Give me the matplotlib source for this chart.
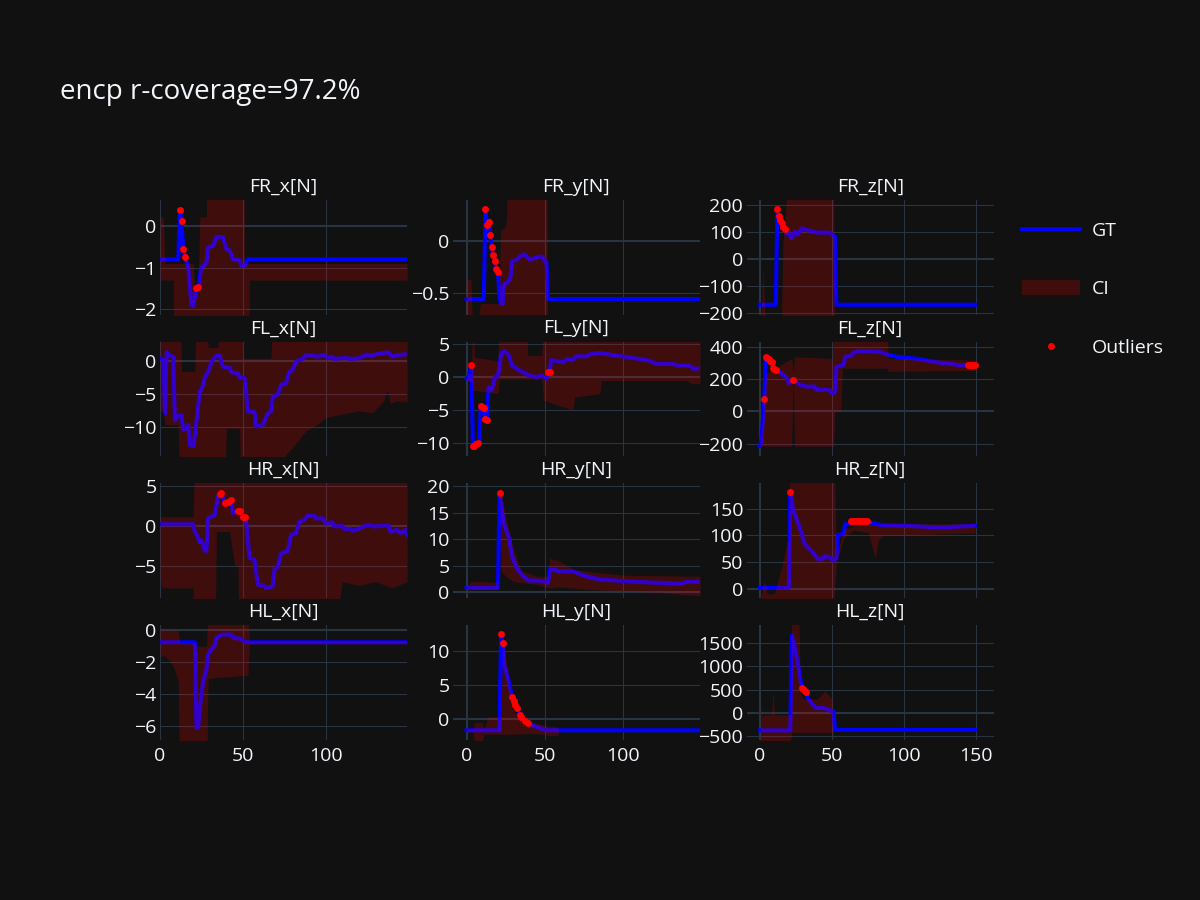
import matplotlib
matplotlib.use("Agg")
import matplotlib.pyplot as plt
from matplotlib.lines import Line2D
from matplotlib.patches import Patch

BG = "#111111"
GRID = "#283442"
TXT = "#f2f5fa"
plt.rcParams['font.family'] = ['Open Sans', 'DejaVu Sans']

chart_title = "encp r-coverage=97.2%"
panel_names = ["FR_x[N]", "FR_y[N]", "FR_z[N]",
               "FL_x[N]", "FL_y[N]", "FL_z[N]",
               "HR_x[N]", "HR_y[N]", "HR_z[N]",
               "HL_x[N]", "HL_y[N]", "HL_z[N]"]
legend_labels = ["GT", "CI", "Outliers"]

# ---------------- FR_x ----------------
FRx_t = [0, 11, 12, 13, 14, 15, 17, 19, 20, 22, 23, 25, 28, 29, 32, 34, 38, 40, 42, 44, 48, 49, 51, 53, 149]
FRx_gt = [-0.80, -0.80, 0.40, 0.13, -0.55, -0.74, -0.98, -1.90, -1.93, -1.50, -1.46, -0.98, -0.90, -0.51,
          -0.48, -0.26, -0.26, -0.55, -0.58, -0.80, -0.82, -0.96, -0.96, -0.80, -0.80]
FRx_ci_t = [0, 2, 3, 8, 9, 20, 21, 23, 24, 28, 29, 50, 51, 53, 54, 149]
FRx_lo = [-1.3, -1.3, -1.3, -1.3, -5, -5, -5, -5, -5, -5, -5, -5, -5, -5, -1.3, -1.3]
FRx_hi = [0.22, 0.22, -0.9, -0.9, -0.9, -0.9, -1.6, -1.6, 0.22, 0.22, 5, 5, -0.9, -0.9, -0.9, -0.9]
FRx_out_t = [12, 13, 14, 15, 22, 23]
FRx_out = [0.40, 0.13, -0.55, -0.74, -1.50, -1.46]

# ---------------- FR_y ----------------
FRy_t = [0, 11, 12, 13, 14, 15, 16, 17, 18, 19, 20, 21, 22, 23, 24, 26, 28, 29, 32, 34, 37, 40, 45, 48, 51, 52, 149]
FRy_gt = [-0.553, -0.553, 0.297, 0.15, 0.175, 0.05, -0.063, -0.14, -0.19, -0.27, -0.30, -0.55, -0.60, -0.60,
          -0.41, -0.40, -0.35, -0.20, -0.18, -0.15, -0.13, -0.18, -0.16, -0.15, -0.21, -0.553, -0.553]
FRy_ci_t = [0, 3, 4, 8, 9, 21, 22, 25, 26, 28, 51, 52, 149]
FRy_lo = [-5, -5, -0.75, -0.75, -5, -5, -5, -5, -5, -5, -5, -0.75, -0.75]
FRy_hi = [-0.37, -0.37, -0.75, -0.75, -0.6, -0.6, 0.09, 0.12, 0.23, 5, 5, -0.75, -0.75]
FRy_out_t = [12, 13, 14, 15, 16, 17, 18, 19, 20]
FRy_out = [0.297, 0.15, 0.175, 0.05, -0.063, -0.14, -0.19, -0.27, -0.30]

# ---------------- FR_z ----------------
FRz_t = [0, 11, 12, 13, 14, 15, 16, 17, 18, 20, 22, 24, 26, 29, 32, 37, 39, 48, 50, 52, 53, 149]
FRz_gt = [-168, -168, 184, 160, 146, 135, 120, 110, 96, 93, 77, 102, 90, 114, 108, 102, 98, 98, 90, 83, -168, -168]
FRz_ci_t = [0, 1, 2, 3, 4, 11, 12, 15, 16, 17, 19, 20, 51, 52, 149]
FRz_lo = [-300, -300, -300, -300, -300, -300, -175, -175, -300, -300, -300, -300, -300, -300, -300]
FRz_hi = [-300, -200, -30, -150, -300, -300, -175, -175, 60, 100, 300, 300, 300, -300, -300]
FRz_out_t = [12, 13, 14, 15, 16, 17]
FRz_out = [184, 160, 146, 135, 120, 110]

# ---------------- FL_x ----------------
FLx_t = [0, 2, 3, 4, 5, 8, 9, 11, 13, 14, 16, 17, 18, 20, 21, 24, 25, 27, 28, 30, 31, 34, 36, 38, 42, 43, 47,
         48, 51, 52, 53, 57, 58, 62, 65, 67, 68, 71, 73, 76, 78, 80, 82, 84, 86, 88, 92, 95, 99, 101, 104, 105,
         109, 113, 114, 120, 122, 125, 126, 129, 133, 138, 140, 144, 149]
FLx_gt = [0.35, 0.1, -7.9, 1.3, 0.85, 0.6, -8.9, -8.2, -8.2, -10.3, -10.1, -9.6, -12.6, -12.8, -11.3, -4.6,
          -4.4, -2.6, -2.1, -1.1, -0.15, 0.75, 0.75, -0.9, -1.05, -1.75, -1.9, -2.5, -2.6, -4.9, -7.6, -7.6,
          -9.85, -9.6, -7.9, -7.6, -5.4, -5.1, -3.6, -3.4, -1.6, -1.4, -0.15, 0.1, 0.25, 0.85, 0.75, 0.6, 0.85,
          0.45, 0.6, 0.25, 0.35, 0.45, 0.25, 0.35, 0.6, 0.95, 0.75, 0.85, 1.1, 1.25, 0.6, 0.85, 0.95]
FLx_ci_t = [0, 2, 3, 11, 12, 13, 21, 22, 28, 29, 35, 36, 39, 40, 48, 49, 50, 67, 68, 76, 80, 88, 95, 100, 110,
            120, 128, 135, 137, 139, 143, 149]
FLx_lo = [-7.6, -7.6, -9.6, -9.6, -20, -20, -20, -20, -20, -20, -20, -20, -20, -10.1, -10.1, -20, -20, -20,
          -20, -14, -13, -10.5, -9.5, -8.5, -8, -7.5, -7.8, -6, -4.4, -6.4, -6, -6.2]
FLx_hi = [10, 10, 10, 10, 10, -1.6, -1.6, 10, 10, 2.0, 2.0, 10, 10, 10, 10, 10, 0.35, 0.35, 10, 10, 10, 10,
          10, 10, 10, 10, 10, 10, 10, 10, 10, 10]
FLx_out_t = []
FLx_out = []

# ---------------- FL_y ----------------
FLy_t = [0, 1, 3, 4, 5, 6, 7, 8, 9, 10, 11, 12, 13, 14, 16, 18, 20, 22, 24, 27, 29, 34, 40, 45, 48, 51, 52, 53,
         54, 56, 62, 64, 68, 70, 77, 79, 85, 96, 108, 117, 121, 132, 135, 142, 145, 149]
FLy_gt = [-0.2, -0.25, 1.8, -10.45, -10.4, -10.2, -10.05, -10.0, -4.4, -4.5, -4.7, -6.4, -6.5, -1.5, -2.0, 0.0,
          0.1, 3.5, 4.0, 3.3, 1.76, 1.0, 0.25, 0.0, 0.25, -0.25, 0.75, 0.85, 2.6, 2.5, 2.26, 2.76, 2.66, 3.17,
          3.17, 3.5, 3.67, 3.27, 2.86, 2.5, 2.0, 2.0, 1.76, 1.76, 1.26, 1.36]
FLy_ci_t = [0, 3, 4, 5, 20, 21, 38, 39, 48, 49, 68, 69, 85, 86, 140, 144, 149]
FLy_lo = [-0.5, -0.5, -2.0, -2.0, -2.5, -0.3, -0.3, -0.3, -0.3, -3.5, -5.0, -3.0, -2.5, -0.5, -0.5, -1.0, -1.0]
FLy_hi = [0.3, 0.3, 10, 3.0, 2.5, 10, 10, 3.3, 3.3, 10, 10, 10, 10, 10, 10, 10, 10]
FLy_out_t = [3, 4, 5, 6, 7, 9, 10, 11, 12, 13, 52, 53]
FLy_out = [1.8, -10.45, -10.4, -10.2, -10.05, -4.4, -4.5, -4.7, -6.4, -6.5, 0.75, 0.85]

# ---------------- FL_z ----------------
FLz_t = [0, 1, 3, 4, 5, 6, 7, 8, 9, 10, 11, 13, 16, 18, 20, 22, 23, 28, 32, 38, 39, 48, 50, 52, 53, 58, 59,
         63, 65, 69, 83, 88, 95, 102, 111, 120, 129, 138, 144, 146, 149]
FLz_gt = [-216, -180, 78, 340, 334, 324, 313, 305, 272, 262, 258, 250, 227, 216, 175, 190, 196, 165, 155, 155,
          134, 134, 113, 120, 278, 289, 340, 346, 367, 375, 371, 355, 340, 334, 326, 309, 299, 289, 289, 289, 287]
FLz_ci_t = [0, 1, 4, 5, 22, 23, 24, 50, 51, 52, 56, 57, 88, 89, 149]
FLz_lo = [-216, -216, -216, -216, -216, 240, -216, -216, -216, 0, 0, 270, 270, 250, 255]
FLz_hi = [-150, -150, 230, 240, 330, 240, 340, 330, 500, 500, 500, 500, 500, 330, 320]
FLz_out_t = [3, 4, 5, 6, 7, 8, 9, 10, 11, 23, 144, 145, 146, 147, 148, 149]
FLz_out = [78, 340, 334, 324, 313, 305, 272, 262, 258, 196, 289, 289, 289, 288, 288, 287]

# ---------------- HR_x ----------------
HRx_t = [0, 20, 21, 22, 24, 25, 27, 28, 29, 31, 33, 35, 36, 37, 39, 41, 43, 44, 47, 48, 49, 50, 51, 52, 54, 57,
         59, 62, 64, 68, 69, 71, 73, 77, 79, 82, 84, 87, 89, 93, 94, 98, 100, 104, 105, 110, 111, 115, 116, 120,
         124, 127, 129, 138, 139, 143, 145, 148, 149]
HRx_gt = [0.17, 0.17, -0.75, -1.08, -2.07, -1.8, -3.15, -3.15, 0.91, 1.12, 1.33, 3.7, 3.9, 4.1, 2.86, 3.0, 3.15,
          1.54, 1.87, 1.87, 1.54, 1.1, 1.04, 0.5, -4.07, -4.27, -7.4, -7.47, -7.8, -7.6, -5.5, -5.2, -3.44,
          -3.24, -1.16, -0.95, 0.5, 0.7, 1.24, 1.24, 0.9, 0.9, 0.29, 0.41, -0.12, -0.04, -0.41, -0.41, -0.66,
          -0.41, 0.0, 0.08, -0.12, 0.0, -0.75, -0.54, -0.95, -0.54, -1.16]
HRx_ci_t = [0, 1, 20, 21, 33, 34, 42, 45, 47, 48, 100, 110, 120, 130, 140, 149]
HRx_lo = [-6.3, -7.8, -7.8, -20, -20, -0.75, -0.75, -5.0, -5.0, -20, -20, -7.0, -7.5, -7.0, -7.8, -7.0]
HRx_hi = [1.1, 1.1, 1.1, 10, 10, 10, 10, 10, 10, 10, 10, 10, 10, 10, 10, 10]
HRx_out_t = [36, 37, 39, 41, 43, 47, 48, 50, 51]
HRx_out = [3.9, 4.1, 2.86, 3.0, 3.15, 1.87, 1.87, 1.1, 1.04]

# ---------------- HR_y ----------------
HRy_t = [0, 20, 21, 22, 24, 27, 29, 32, 36, 40, 45, 49, 52, 53, 57, 58, 68, 74, 85, 96, 108, 125, 138, 140, 149]
HRy_gt = [0.8, 0.8, 18.6, 16.4, 12.7, 10.2, 6.75, 4.56, 3.0, 2.19, 2.19, 2.06, 1.75, 4.25, 4.25, 3.94, 3.94,
          3.19, 2.38, 2.19, 1.94, 1.75, 1.56, 1.94, 1.94]
HRy_ci_t = [0, 3, 10, 20, 21, 22, 25, 30, 35, 45, 52, 53, 58, 68, 80, 100, 120, 149]
HRy_lo = [0.5, 0.6, 0.5, 0.5, 18.0, 4.0, 3.0, 2.0, 1.8, 1.5, 0.8, 0.8, 1.0, 0.8, 0.5, 0.2, 0.0, -0.7]
HRy_hi = [1.2, 2.0, 2.0, 1.8, 19.5, 19.0, 14.0, 8.0, 4.0, 3.0, 3.0, 6.4, 6.0, 4.3, 3.8, 3.2, 3.1, 3.0]
HRy_out_t = [21]
HRy_out = [18.6]

# ---------------- HR_z ----------------
HRz_t = [0, 20, 21, 23, 28, 31, 36, 40, 43, 45, 48, 51, 53, 54, 58, 59, 63, 64, 74, 78, 85, 101, 125, 141, 149]
HRz_gt = [1.25, 1.25, 181, 148, 111, 84, 70, 56, 56, 61, 59, 52.5, 57.5, 101, 102.5, 121, 122, 127.5, 127.5,
          123, 119, 118, 115, 117, 118]
HRz_ci_t = [0, 1, 3, 5, 10, 15, 19, 20, 21, 50, 51, 53, 58, 65, 75, 80, 82, 85, 100, 149]
HRz_lo = [-30, -30, -30, -30, -30, -30, -30, -30, -30, -30, -30, 50, 95, 110, 105, 57, 90, 100, 100, 105]
HRz_hi = [-30, -10, 15, -10, -10, 40, 89, 89, 300, 300, 300, 60, 110, 118, 120, 120, 120, 122, 122, 122]
HRz_out_t = [21, 63, 64, 65, 66, 67, 68, 69, 70, 71, 72, 73, 74]
HRz_out = [181, 127, 127.5, 127.5, 127.5, 127.5, 127.5, 127.5, 127.5, 127.5, 127.5, 127, 127]

# ---------------- HL_x ----------------
HLx_t = [0, 21, 22, 23, 24, 26, 28, 29, 31, 33, 34, 37, 43, 44, 48, 51, 52, 149]
HLx_gt = [-0.75, -0.75, -6.1, -6.1, -4.85, -3.2, -2.46, -1.52, -1.2, -0.94, -0.48, -0.27, -0.27, -0.48, -0.52,
          -0.69, -0.75, -0.75]
HLx_ci_t = [0, 3, 8, 11, 12, 21, 22, 28, 29, 53, 54, 149]
HLx_lo = [-1.6, -1.6, -2.2, -3.2, -10, -10, -10, -10, -3.0, -2.8, -0.85, -0.85]
HLx_hi = [0.15, 0.0, 0.0, 0.0, -0.8, -0.8, -1.0, -1.0, 1.0, 1.0, -0.65, -0.65]
HLx_out_t = []
HLx_out = []

# ---------------- HL_y ----------------
HLy_t = [0, 21, 22, 23, 24, 27, 29, 30, 31, 32, 34, 35, 37, 39, 45, 51, 149]
HLy_gt = [-1.73, -1.73, 12.5, 11.2, 8.0, 5.5, 3.17, 2.57, 2.08, 1.58, 0.59, 0.2, -0.3, -0.64, -1.29, -1.73, -1.73]
HLy_ci_t = [0, 4, 5, 10, 11, 14, 22, 23, 25, 30, 40, 50, 52, 58, 59, 149]
HLy_lo = [-2.0, -2.0, -3.5, -3.5, -2.3, -2.3, -2.3, -2.3, -2.3, -2.3, -2.2, -2.3, -2.5, -2.5, -1.9, -1.9]
HLy_hi = [-1.5, -1.5, -0.6, -0.6, -1.5, 0.3, 0.3, 12.3, 9.0, 1.0, -0.5, -1.0, -1.2, -1.2, -1.9, -1.9]
HLy_out_t = [22, 23, 29, 30, 31, 32, 34, 35, 37, 39]
HLy_out = [12.5, 11.2, 3.17, 2.57, 2.08, 1.58, 0.59, 0.2, -0.3, -0.64]

# ---------------- HL_z ----------------
HLz_t = [0, 21, 22, 24, 27, 29, 30, 31, 32, 33, 37, 39, 43, 46, 50, 51, 52, 149]
HLz_gt = [-371, -371, 1664, 1429, 929, 540, 505, 470, 440, 321, 164, 107, 107, 93, 36, 40, -360, -360]
HLz_ci_t = [0, 1, 2, 3, 8, 9, 10, 12, 20, 21, 22, 27, 28, 30, 40, 45, 50, 51, 149]
HLz_lo = [-600, -600, -600, -600, -600, -600, -600, -600, -600, -600, -420, -420, -420, -420, -420, -420, -420,
          -600, -600]
HLz_hi = [-600, 180, -100, -40, -40, 460, -40, -40, -40, -40, 2000, 2000, 470, 300, 300, 470, 300, -600, -600]
HLz_out_t = [29, 30, 31, 32]
HLz_out = [540, 505, 470, 440]

panels = [
    (FRx_t, FRx_gt, FRx_ci_t, FRx_lo, FRx_hi, FRx_out_t, FRx_out),
    (FRy_t, FRy_gt, FRy_ci_t, FRy_lo, FRy_hi, FRy_out_t, FRy_out),
    (FRz_t, FRz_gt, FRz_ci_t, FRz_lo, FRz_hi, FRz_out_t, FRz_out),
    (FLx_t, FLx_gt, FLx_ci_t, FLx_lo, FLx_hi, FLx_out_t, FLx_out),
    (FLy_t, FLy_gt, FLy_ci_t, FLy_lo, FLy_hi, FLy_out_t, FLy_out),
    (FLz_t, FLz_gt, FLz_ci_t, FLz_lo, FLz_hi, FLz_out_t, FLz_out),
    (HRx_t, HRx_gt, HRx_ci_t, HRx_lo, HRx_hi, HRx_out_t, HRx_out),
    (HRy_t, HRy_gt, HRy_ci_t, HRy_lo, HRy_hi, HRy_out_t, HRy_out),
    (HRz_t, HRz_gt, HRz_ci_t, HRz_lo, HRz_hi, HRz_out_t, HRz_out),
    (HLx_t, HLx_gt, HLx_ci_t, HLx_lo, HLx_hi, HLx_out_t, HLx_out),
    (HLy_t, HLy_gt, HLy_ci_t, HLy_lo, HLy_hi, HLy_out_t, HLy_out),
    (HLz_t, HLz_gt, HLz_ci_t, HLz_lo, HLz_hi, HLz_out_t, HLz_out),
]

# axis ranges / ticks (layout)
y_limits = [(-2.13, 0.63), (-0.70, 0.384), (-204, 218),
            (-14.3, 2.84), (-12.0, 5.39), (-278, 434),
            (-9.04, 5.3), (-1.05, 20.5), (-17.4, 198),
            (-6.84, 0.31), (-3.14, 13.86), (-573, 1879)]
y_ticks = [[-2, -1, 0], [-0.5, 0], [-200, -100, 0, 100, 200],
           [-10, -5, 0], [-10, -5, 0, 5], [-200, 0, 200, 400],
           [-5, 0, 5], [0, 5, 10, 15, 20], [0, 50, 100, 150],
           [-6, -4, -2, 0], [0, 5, 10], [-500, 0, 500, 1000, 1500]]
x_limits = [(0, 149), (-8.7, 149), (-9.2, 162)]
x_ticks = [[0, 50, 100], [0, 50, 100], [0, 50, 100, 150]]

col_left = [160, 453, 746.7]
col_w = 247
row_top = [200, 341.7, 483.3, 625.3]
row_h = 114.5
W, H = 1200, 900

FS = 14
LW = 2.9
GT_COLOR = "#0000ff"
CI_COLOR = (1, 0, 0, 0.2)
OUT_COLOR = "#ff0000"


def fmt(v):
    s = ("%g" % v)
    return s.replace("-", "\u2212")


fig = plt.figure(figsize=(12, 9), dpi=100, facecolor=BG)
for i, (t, gt, ct, lo, hi, ot, ov) in enumerate(panels):
    r, c = divmod(i, 3)
    ax = fig.add_axes([col_left[c] / W, 1 - (row_top[r] + row_h) / H, col_w / W, row_h / H])
    ax.set_facecolor(BG)
    for s in ax.spines.values():
        s.set_visible(False)
    ax.set_xlim(*x_limits[c])
    ax.set_ylim(*y_limits[i])
    for xv in x_ticks[c]:
        ax.axvline(xv, color=GRID, lw=1.5 if xv == 0 else 0.8, zorder=0)
    for yv in y_ticks[i]:
        ax.axhline(yv, color=GRID, lw=1.5 if yv == 0 else 0.8, zorder=0)
    ax.plot(t, gt, color=GT_COLOR, lw=LW, zorder=2, solid_joinstyle='round')
    ax.fill_between(ct, lo, hi, color=CI_COLOR, lw=0, zorder=3)
    if len(ot):
        ax.plot(ot, ov, 'o', color=OUT_COLOR, ms=5, mec='none', zorder=4)
    ax.set_yticks(y_ticks[i])
    ax.set_yticklabels([fmt(v) for v in y_ticks[i]])
    ax.set_xticks(x_ticks[c])
    if r == 3:
        ax.set_xticklabels([fmt(v) for v in x_ticks[c]])
    else:
        ax.set_xticklabels([])
    ax.tick_params(axis='y', length=0, labelsize=FS, colors=TXT, pad=2.5)
    ax.tick_params(axis='x', length=0, labelsize=FS, colors=TXT, pad=5)
    ax.set_title(panel_names[i], color=TXT, fontsize=FS, pad=6)

fig.text(60 / W, 1 - 92 / H, chart_title, color=TXT, fontsize=20, va='center', ha='left')

handles = [Line2D([0], [0], color=GT_COLOR, lw=LW),
           Patch(facecolor=CI_COLOR, edgecolor='none'),
           Line2D([0], [0], color=OUT_COLOR, marker='o', ls='none', ms=5, mec='none')]
leg = fig.legend(handles, legend_labels, loc='upper left', bbox_to_anchor=(1014 / W, 1 - 214 / H),
                 frameon=False, fontsize=FS, labelcolor=TXT, handlelength=3.0, handleheight=0.75,
                 handletextpad=0.6, labelspacing=2.08, borderaxespad=0)

fig.savefig("out.png", dpi=100, facecolor=BG)
